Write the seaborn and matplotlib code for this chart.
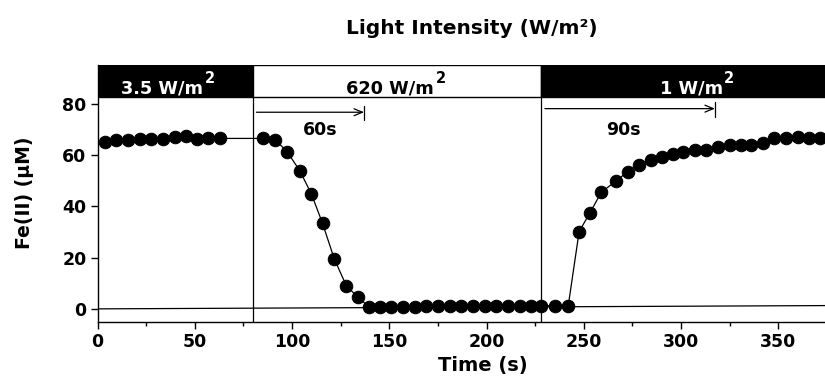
import matplotlib
matplotlib.use("Agg")
import matplotlib.pyplot as plt
from matplotlib.patches import Rectangle
from matplotlib.ticker import MultipleLocator
import seaborn as sns
import pandas as pd

# Fe(II) time course under changing irradiance
time_s = [3.7, 9.7, 15.7, 21.7, 27.7, 33.7, 39.7, 45.7, 51, 57, 63,
          85, 91.5, 97.5, 104, 110, 115.7, 121.7, 128, 134, 139.5,
          145, 151, 157, 163, 169, 175, 181, 187, 193, 199, 205, 211, 217, 223, 228,
          235, 242,
          247.6, 253, 259, 266.5, 272.5, 278.4, 284.3, 290, 296, 301, 307, 313, 319,
          325, 330.6, 336, 342, 348, 354, 360, 366, 371.5]
fe_uM = [65.1, 65.7, 65.7, 66.2, 66.2, 66.0, 66.8, 67.3, 66.0, 66.4, 66.4,
         66.4, 65.8, 61.2, 53.8, 44.7, 33.3, 19.5, 8.9, 4.5, 0.8,
         0.9, 0.9, 0.9, 0.9, 1.0, 1.0, 1.0, 1.0, 1.0, 1.0, 1.1, 1.1, 1.1, 1.2, 1.2,
         1.2, 1.2,
         30.1, 37.2, 45.4, 49.8, 53.4, 56.0, 58.0, 59.0, 60.2, 61.2, 61.9, 61.9, 63.2,
         63.8, 63.8, 63.8, 64.5, 66.4, 66.4, 67.0, 66.7, 66.7]

# Light periods (start, end, fill, label)
period_start = [0, 80, 228]
period_end = [80, 228, 380]
period_fill = ["black", "white", "black"]
period_text = ["3.5 W/m", "620 W/m", "1 W/m"]
period_text_x = [12.3, 128, 289]
period_text_color = ["white", "black", "white"]

# Response-time markers
arrow_start = [81.7, 230]
arrow_end = [137, 317.4]
arrow_y = [76.6, 78]
arrow_text = ["60s", "90s"]
arrow_text_x = [114.3, 270.3]

baseline_x = [0, 380]
baseline_y = [0, 1.3]

sns.set_style("ticks")
plt.rcParams["font.family"] = ["DejaVu Sans"]
plt.rcParams["font.weight"] = "bold"
for key in ["text.color", "axes.labelcolor", "xtick.color", "ytick.color",
            "axes.edgecolor"]:
    plt.rcParams[key] = "black"

fig = plt.figure(figsize=(8.25, 3.78), dpi=100)
ax = fig.add_axes([97.5 / 825, 1 - 321.7 / 378, 1 - 97.5 / 825, (321.7 - 65) / 378])

df = pd.DataFrame({"time": time_s, "fe": fe_uM})
ax.plot(baseline_x, baseline_y, color="black", lw=0.9, zorder=2)
sns.lineplot(data=df, x="time", y="fe", ax=ax, color="black", lw=0.9,
             marker="o", markersize=9, markeredgecolor="black",
             estimator=None, sort=False, zorder=3)

band_lo, band_hi = 82.5, 95
for s, e, c in zip(period_start, period_end, period_fill):
    ax.add_patch(Rectangle((s, band_lo), e - s, band_hi - band_lo, facecolor=c,
                           edgecolor="black", lw=1.0, zorder=4, clip_on=True))
for xv in period_end[:2]:
    ax.plot([xv, xv], [-5, band_lo], color="black", lw=0.9, zorder=2)

for s, e, y in zip(arrow_start, arrow_end, arrow_y):
    ax.annotate("", xy=(e, y), xytext=(s, y),
                arrowprops=dict(arrowstyle="->,head_length=0.6,head_width=0.25",
                                color="black", lw=0.9, shrinkA=0, shrinkB=0))
    ax.plot([e, e], [y - 3.2, y + 2.5], color="black", lw=0.9)
for tx, t in zip(arrow_text_x, arrow_text):
    ax.text(tx, 69.7, t, ha="center", va="center", fontsize=12.5, fontweight="bold")

ax.set_xlim(0, 374)
ax.set_ylim(-5, 95)
ax.set_yticks([0, 20, 40, 60, 80])
ax.xaxis.set_major_locator(MultipleLocator(50))
ax.xaxis.set_minor_locator(MultipleLocator(25))
ax.tick_params(axis="both", which="major", direction="out", length=5, width=1,
               labelsize=12.5, pad=3, colors="black")
ax.tick_params(axis="x", which="minor", direction="out", length=3, width=1,
               colors="black")
for lab in ax.get_xticklabels() + ax.get_yticklabels():
    lab.set_fontweight("bold")
ax.set_xlabel("")
ax.set_ylabel("")
for side in ["top", "right"]:
    ax.spines[side].set_visible(False)
for side in ["left", "bottom"]:
    ax.spines[side].set_linewidth(1.0)
    ax.spines[side].set_color("black")

# Band labels with a raised "2"
fig.canvas.draw()
renderer = fig.canvas.get_renderer()
for tx, t, col in zip(period_text_x, period_text, period_text_color):
    txt = ax.text(tx, 83.8, t, ha="left", va="baseline", fontsize=12.8,
                  fontweight="bold", color=col, zorder=5)
    bb = txt.get_window_extent(renderer)
    x_end = ax.transData.inverted().transform((bb.x1, bb.y0))[0]
    ax.annotate("2", xy=(x_end, 83.8), xycoords="data", xytext=(1, 7.5),
                textcoords="offset points", ha="left", va="baseline",
                fontsize=10.5, fontweight="bold", color=col, zorder=5)

fig.text(472 / 825, 1 - 28 / 378, "Light Intensity (W/m²)", ha="center", va="center",
         fontsize=14.5, fontweight="bold")
fig.text(483 / 825, 1 - 366 / 378, "Time (s)", ha="center", va="center",
         fontsize=14, fontweight="bold")
fig.text(25 / 825, 1 - 193 / 378, "Fe(II) (μM)", ha="center", va="center",
         rotation=90, fontsize=13.5, fontweight="bold")

fig.savefig("out.png", dpi=100)
